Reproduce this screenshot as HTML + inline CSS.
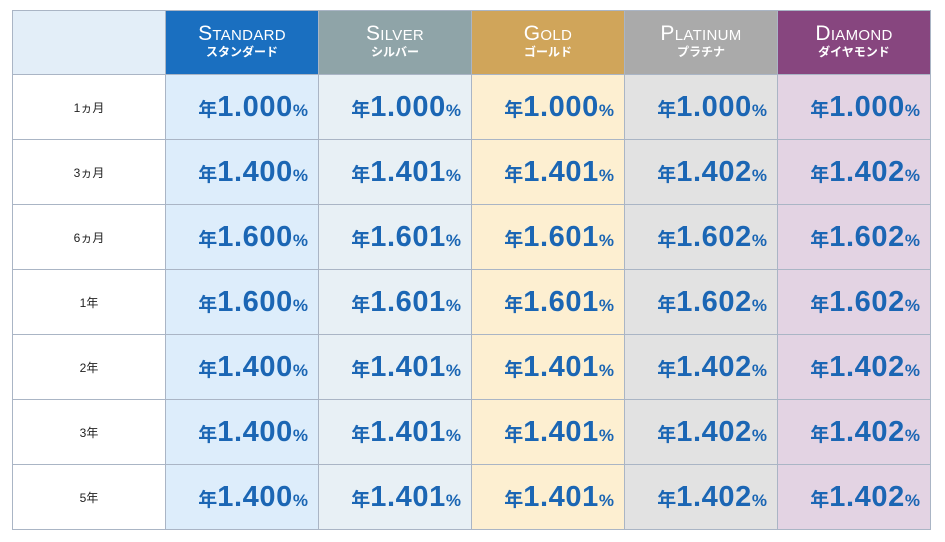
<!DOCTYPE html>
<html><head><meta charset="utf-8"><style>
body{margin:0;background:#fff;width:945px;height:542px;overflow:hidden;font-family:"Liberation Sans","Noto Sans CJK JP",sans-serif}
table{position:absolute;left:12px;top:10px;border-collapse:collapse;table-layout:fixed}
td,th{border:1px solid #aab5c5;padding:0}
th{height:63px;color:#fff;font-weight:normal;text-align:center;line-height:1}
th .en{font-size:21px;font-variant:small-caps;letter-spacing:0.3px;font-family:"Liberation Sans",sans-serif;display:block;margin-top:-4px}
th .jp{font-size:12px;display:block;margin-top:2px;font-weight:bold}
td{height:64px}
td.l{background:#fff;text-align:center;font-size:12px;color:#222}
td.v{text-align:right;padding-right:10px;color:#1b66b4;font-weight:bold;white-space:nowrap}
td.v .y{font-size:19px}
td.v .n{font-size:29px;letter-spacing:0.6px}
td.v .p{font-size:17px}
.c1{background:#ddedfb}.c2{background:#e8f0f5}.c3{background:#fdefd1}.c4{background:#e2e2e2}.c5{background:#e3d3e3}
</style></head><body>
<table>
<colgroup><col style="width:153px"><col style="width:153px"><col style="width:153px"><col style="width:153px"><col style="width:153px"><col style="width:153px"></colgroup>
<tr><th style="background:#e3eef8"></th>
<th style="background:#1a6fc0"><span class="en">Standard</span><span class="jp">スタンダード</span></th>
<th style="background:#8fa4a8"><span class="en">Silver</span><span class="jp">シルバー</span></th>
<th style="background:#d0a55a"><span class="en">Gold</span><span class="jp">ゴールド</span></th>
<th style="background:#aaaaaa"><span class="en">Platinum</span><span class="jp">プラチナ</span></th>
<th style="background:#87467f"><span class="en">Diamond</span><span class="jp">ダイヤモンド</span></th></tr>
<tr><td class="l">1ヵ月</td><td class="v c1"><span class="y">年</span><span class="n">1.000</span><span class="p">%</span></td><td class="v c2"><span class="y">年</span><span class="n">1.000</span><span class="p">%</span></td><td class="v c3"><span class="y">年</span><span class="n">1.000</span><span class="p">%</span></td><td class="v c4"><span class="y">年</span><span class="n">1.000</span><span class="p">%</span></td><td class="v c5"><span class="y">年</span><span class="n">1.000</span><span class="p">%</span></td></tr>
<tr><td class="l">3ヵ月</td><td class="v c1"><span class="y">年</span><span class="n">1.400</span><span class="p">%</span></td><td class="v c2"><span class="y">年</span><span class="n">1.401</span><span class="p">%</span></td><td class="v c3"><span class="y">年</span><span class="n">1.401</span><span class="p">%</span></td><td class="v c4"><span class="y">年</span><span class="n">1.402</span><span class="p">%</span></td><td class="v c5"><span class="y">年</span><span class="n">1.402</span><span class="p">%</span></td></tr>
<tr><td class="l">6ヵ月</td><td class="v c1"><span class="y">年</span><span class="n">1.600</span><span class="p">%</span></td><td class="v c2"><span class="y">年</span><span class="n">1.601</span><span class="p">%</span></td><td class="v c3"><span class="y">年</span><span class="n">1.601</span><span class="p">%</span></td><td class="v c4"><span class="y">年</span><span class="n">1.602</span><span class="p">%</span></td><td class="v c5"><span class="y">年</span><span class="n">1.602</span><span class="p">%</span></td></tr>
<tr><td class="l">1年</td><td class="v c1"><span class="y">年</span><span class="n">1.600</span><span class="p">%</span></td><td class="v c2"><span class="y">年</span><span class="n">1.601</span><span class="p">%</span></td><td class="v c3"><span class="y">年</span><span class="n">1.601</span><span class="p">%</span></td><td class="v c4"><span class="y">年</span><span class="n">1.602</span><span class="p">%</span></td><td class="v c5"><span class="y">年</span><span class="n">1.602</span><span class="p">%</span></td></tr>
<tr><td class="l">2年</td><td class="v c1"><span class="y">年</span><span class="n">1.400</span><span class="p">%</span></td><td class="v c2"><span class="y">年</span><span class="n">1.401</span><span class="p">%</span></td><td class="v c3"><span class="y">年</span><span class="n">1.401</span><span class="p">%</span></td><td class="v c4"><span class="y">年</span><span class="n">1.402</span><span class="p">%</span></td><td class="v c5"><span class="y">年</span><span class="n">1.402</span><span class="p">%</span></td></tr>
<tr><td class="l">3年</td><td class="v c1"><span class="y">年</span><span class="n">1.400</span><span class="p">%</span></td><td class="v c2"><span class="y">年</span><span class="n">1.401</span><span class="p">%</span></td><td class="v c3"><span class="y">年</span><span class="n">1.401</span><span class="p">%</span></td><td class="v c4"><span class="y">年</span><span class="n">1.402</span><span class="p">%</span></td><td class="v c5"><span class="y">年</span><span class="n">1.402</span><span class="p">%</span></td></tr>
<tr><td class="l">5年</td><td class="v c1"><span class="y">年</span><span class="n">1.400</span><span class="p">%</span></td><td class="v c2"><span class="y">年</span><span class="n">1.401</span><span class="p">%</span></td><td class="v c3"><span class="y">年</span><span class="n">1.401</span><span class="p">%</span></td><td class="v c4"><span class="y">年</span><span class="n">1.402</span><span class="p">%</span></td><td class="v c5"><span class="y">年</span><span class="n">1.402</span><span class="p">%</span></td></tr>
</table>
</body></html>
